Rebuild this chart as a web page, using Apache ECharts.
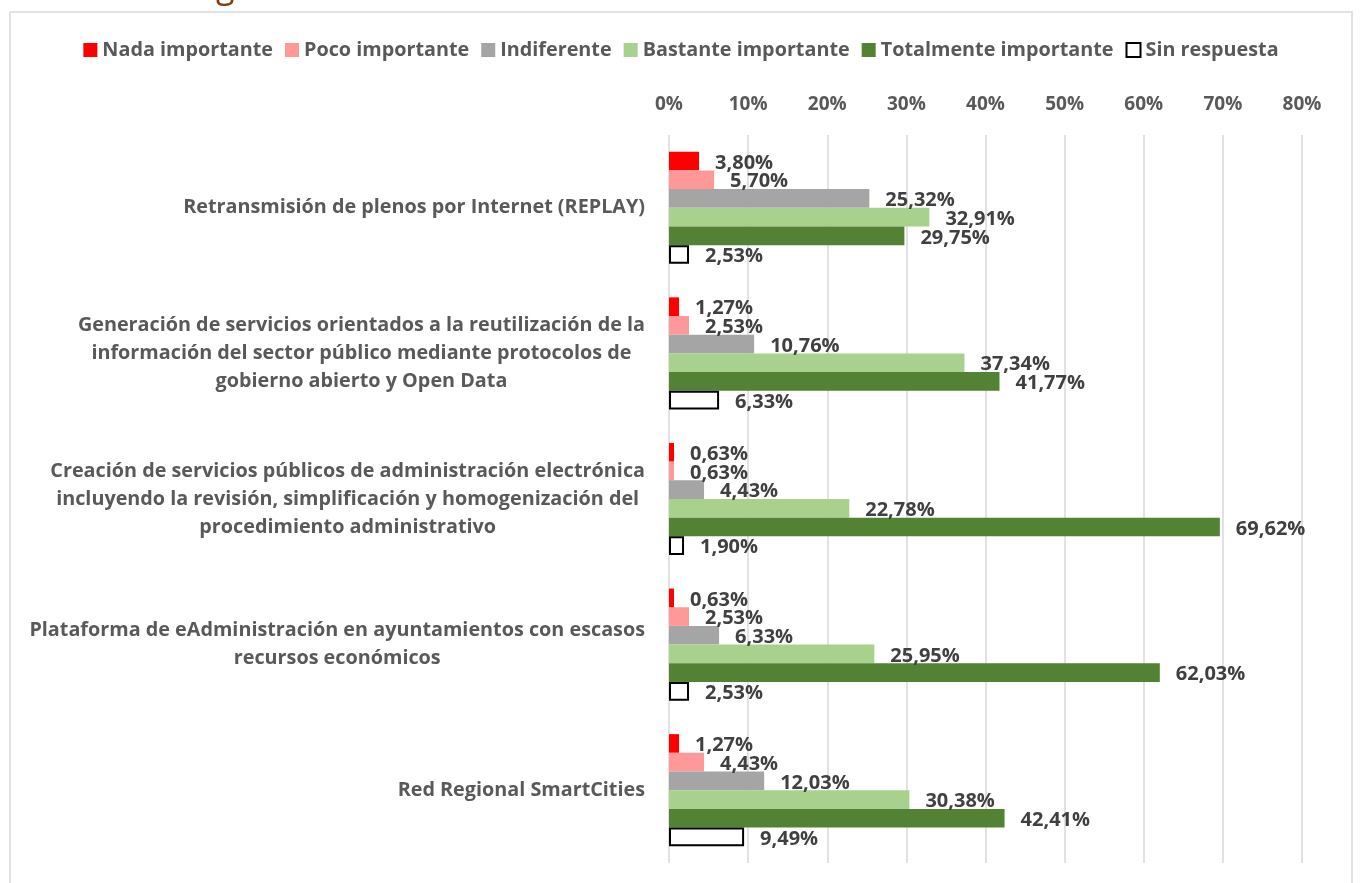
<!DOCTYPE html>
<html>
<head>
<meta charset="utf-8">
<script src="https://cdn.jsdelivr.net/npm/echarts@6/dist/echarts.min.js"></script>
<style>
html,body{margin:0;padding:0;background:#fff;}
#chart{width:1362px;height:883px;}
</style>
</head>
<body>
<div id="chart"></div>
<script>
const categories = [
  "Retransmisión de plenos por Internet (REPLAY)",
  "Generación de servicios orientados a la reutilización de la\ninformación del sector público mediante protocolos de\ngobierno abierto y Open Data",
  "Creación de servicios públicos de administración electrónica\nincluyendo la revisión, simplificación y homogenización del\nprocedimiento administrativo",
  "Plataforma de eAdministración en ayuntamientos con escasos\nrecursos económicos",
  "Red Regional SmartCities"
];
const seriesNames = ["Nada importante", "Poco importante", "Indiferente", "Bastante importante", "Totalmente importante", "Sin respuesta"];
const nadaImportante = [3.80, 1.27, 0.63, 0.63, 1.27];
const pocoImportante = [5.70, 2.53, 0.63, 2.53, 4.43];
const indiferente = [25.32, 10.76, 4.43, 6.33, 12.03];
const bastanteImportante = [32.91, 37.34, 22.78, 25.95, 30.38];
const totalmenteImportante = [29.75, 41.77, 69.62, 62.03, 42.41];
const sinRespuesta = [2.53, 6.33, 1.90, 2.53, 9.49];
const xTicks = [0, 10, 20, 30, 40, 50, 60, 70, 80];

const FONT = "Open Sans";
const colors = ["#FF0000", "#FF9999", "#A5A5A5", "#A9D18E", "#548235", "#FFFFFF"];
const dataSets = [nadaImportante, pocoImportante, indiferente, bastanteImportante, totalmenteImportante, sinRespuesta];

const chart = echarts.init(document.getElementById('chart'));

const series = dataSets.map((d, i) => ({
  name: seriesNames[i],
  type: 'bar',
  data: d,
  barGap: '0%',
  barCategoryGap: '23%',
  itemStyle: i === 5
    ? { color: '#FFFFFF', borderColor: '#000000', borderWidth: 2 }
    : { color: colors[i] },
  label: {
    show: true,
    position: 'right',
    distance: 16,
    formatter: p => p.value.toFixed(2).replace('.', ',') + '%',
    fontFamily: FONT,
    fontWeight: 'bold',
    fontSize: 20,
    color: '#404040',
    offset: [0, 2]
  }
}));

chart.setOption({
  animation: false,
  backgroundColor: '#FFFFFF',
  textStyle: { fontFamily: FONT },
  graphic: [
    { type: 'rect', shape: { x: 10, y: 12, width: 1342, height: 900 }, style: { fill: 'none', stroke: '#D9D9D9', lineWidth: 1.5 }, z: -1 },
    { type: 'text', left: 216, top: -29, style: { text: 'g', fill: '#843C0C', fontSize: 34, fontFamily: FONT } }
  ],
  legend: {
    top: 35,
    left: 'center',
    itemWidth: 14,
    itemHeight: 14,
    itemGap: 12,
    icon: 'rect',
    textStyle: { fontFamily: FONT, fontWeight: 'bold', fontSize: 19.8, color: '#595959' },
    data: seriesNames
  },
  grid: { left: 669, right: 60, top: 135, bottom: 20, containLabel: false },
  xAxis: {
    type: 'value',
    position: 'top',
    min: xTicks[0],
    max: xTicks[xTicks.length - 1],
    interval: 10,
    axisLine: { show: false },
    axisTick: { show: false },
    splitLine: { show: true, lineStyle: { color: '#D9D9D9', width: 1.5 } },
    axisLabel: {
      formatter: v => v + '%',
      fontFamily: FONT, fontWeight: 'bold', fontSize: 19, color: '#595959', margin: 21
    }
  },
  yAxis: {
    type: 'category',
    inverse: true,
    data: categories,
    axisLine: { show: false },
    axisTick: { show: false },
    axisLabel: {
      align: 'right',
      margin: 24,
      formatter: v => v.split('\n').map(l => '{c|' + l + '}').join('\n'),
      rich: {
        c: { align: 'center', fontFamily: FONT, fontWeight: 'bold', fontSize: 19.8, color: '#595959', lineHeight: 28 }
      }
    }
  },
  series: series
});
</script>
</body>
</html>
